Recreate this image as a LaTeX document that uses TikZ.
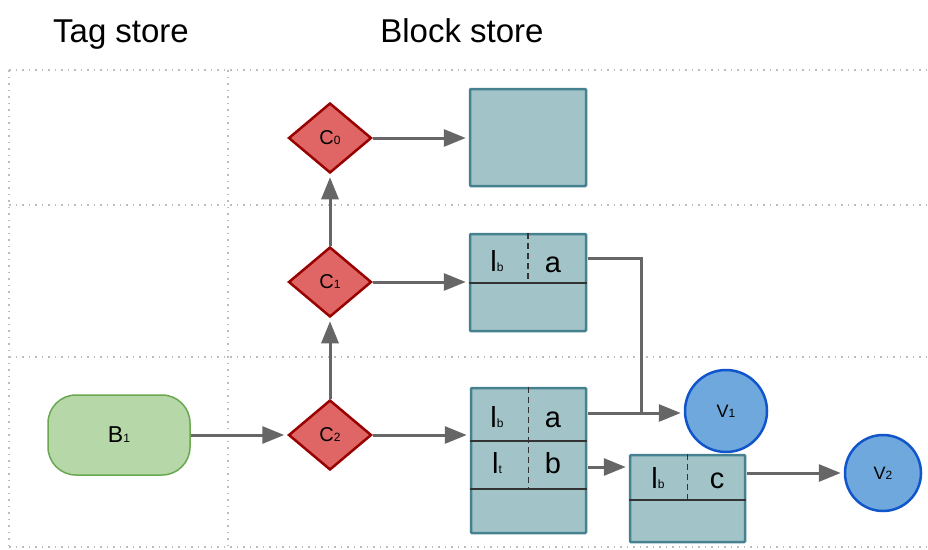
\documentclass[tikz,border=0pt]{standalone}
\usepackage{fontspec}
\setmainfont{Liberation Sans}
\usetikzlibrary{shapes.geometric,arrows.meta,calc}
\definecolor{condfill}{HTML}{E06666}
\definecolor{condline}{HTML}{990000}
\definecolor{blkfill}{HTML}{A2C4C9}
\definecolor{blkline}{HTML}{45818E}
\definecolor{tagfill}{HTML}{B6D7A8}
\definecolor{tagline}{HTML}{6AA84F}
\definecolor{valfill}{HTML}{6FA8DC}
\definecolor{valline}{HTML}{1155CC}
\definecolor{arrowgray}{HTML}{666666}
\definecolor{gridgray}{HTML}{BDBDBD}
% small index set on the baseline
\newcommand\lowix[1]{{\fontsize{12}{12}\selectfont #1}}
\begin{document}
\begin{tikzpicture}[x=1pt,y=-1pt,
  cond/.style={diamond, draw=condline, fill=condfill, line width=2.5pt,
    minimum width=83pt, minimum height=70pt, inner sep=0pt, aspect=1.2,
    font=\fontsize{20}{20}\selectfont},
  block/.style={rectangle, draw=blkline, fill=blkfill, line width=2.5pt,
    rounded corners=1pt, inner sep=0pt},
  tagnode/.style={rectangle, rounded corners=28pt, draw=tagline, fill=tagfill,
    line width=1.5pt, minimum width=142pt, minimum height=80pt,
    font=\fontsize{23}{23}\selectfont},
  val/.style={circle, draw=valline, fill=valfill, line width=2.5pt,
    inner sep=0pt, font=\fontsize{18}{18}\selectfont},
  link/.style={draw=arrowgray, line width=3pt,
    -{Triangle[length=22pt,width=17pt]}, shorten >=3pt},
  seg/.style={draw=arrowgray, line width=3pt},
  divider/.style={draw=black!80, line width=2pt},
  cellsplit/.style={draw=black!80, line width=1.6pt, dash pattern=on 6pt off 4pt},
  gridline/.style={draw=gridgray, line width=1.5pt, dash pattern=on 1.5pt off 5pt},
  heading/.style={anchor=base, inner sep=0pt, font=\fontsize{33}{33}\selectfont},
  celltext/.style={anchor=base, inner sep=0pt, font=\fontsize{29}{29}\selectfont}]

\useasboundingbox (0,0) rectangle (928,549);

% column titles
\node[heading] (tagtitle) at (121,42) {Tag store};
\node[heading] (blocktitle) at (462,42) {Block store};

% dotted lane grid
\draw[gridline] (9,70) -- (928,70);
\draw[gridline] (9,205) -- (928,205);
\draw[gridline] (9,357) -- (928,357);
\draw[gridline] (9,547) -- (928,547);
\draw[gridline] (9,70) -- (9,549);
\draw[gridline] (228,70) -- (228,549);

% blocks
\node[block, minimum width=116pt, minimum height=97pt] (blk0) at (528,137.5) {};
\node[block, minimum width=116pt, minimum height=97pt] (blk1) at (528,282.5) {};
\node[block, minimum width=115pt, minimum height=145pt] (blk2) at (528.5,460.5) {};
\node[block, minimum width=115pt, minimum height=87pt] (blk3) at (687.5,498.5) {};

% block cell dividers
\draw[divider] (blk1.west) -- (blk1.east);
\draw[cellsplit] (blk1.north) -- (blk1.center);
\draw[divider] (blk2.west |- 0,441) -- (blk2.east |- 0,441);
\draw[divider] (blk2.west |- 0,489) -- (blk2.east |- 0,489);
\draw[cellsplit] (blk2.north) -- (blk2.north |- 0,489);
\draw[divider] (blk3.west |- 0,500) -- (blk3.east |- 0,500);
\draw[cellsplit] (blk3.north) -- (blk3.north |- 0,500);

% block cell texts
\node[celltext] (k1) at (497,271) {l\lowix{b}};
\node[celltext] (b1a) at (553,272) {a};
\node[celltext] (k2) at (497,427) {l\lowix{b}};
\node[celltext] (b2a) at (553,427) {a};
\node[celltext] (k3) at (497,473) {l\lowix{t}};
\node[celltext] (b2b) at (553,473) {b};
\node[celltext] (k4) at (658,488) {l\lowix{b}};
\node[celltext] (b3c) at (717,488) {c};

% conditions
\node[cond] (c0) at (330,138) {C\lowix{0}};
\node[cond] (c1) at (330,282) {C\lowix{1}};
\node[cond] (c2) at (330,435) {C\lowix{2}};

% tag entry
\node[tagnode] (b1) at (119,435) {B\lowix{1}};

% values
\node[val, minimum size=82pt] (v1) at (726,411) {V\lowix{1}};
\node[val, minimum size=76pt] (v2) at (883,473) {V\lowix{2}};

% connectors
\coordinate (joint) at (641,413);
\draw[link] (b1) -- (c2);
\draw[link] (c2) -- (c1);
\draw[link] (c1) -- (c0);
\draw[link] (c0.east) -- (c0.east -| blk0.west);
\draw[link] (c1.east) -- (c1.east -| blk1.west);
\draw[link] (c2.east) -- (c2.east -| blk2.west);
\draw[seg] ([xshift=1pt]blk1.east |- 0,258) -| (joint);
\draw[link] ([xshift=1pt]blk2.east |- joint) -- (joint -| v1.west);
\draw[link] ([xshift=1pt]blk2.east |- 0,467) -- (blk3.west |- 0,467);
\draw[link] ([xshift=1pt]blk3.east |- v2) -- (v2.west);
\end{tikzpicture}
\end{document}
